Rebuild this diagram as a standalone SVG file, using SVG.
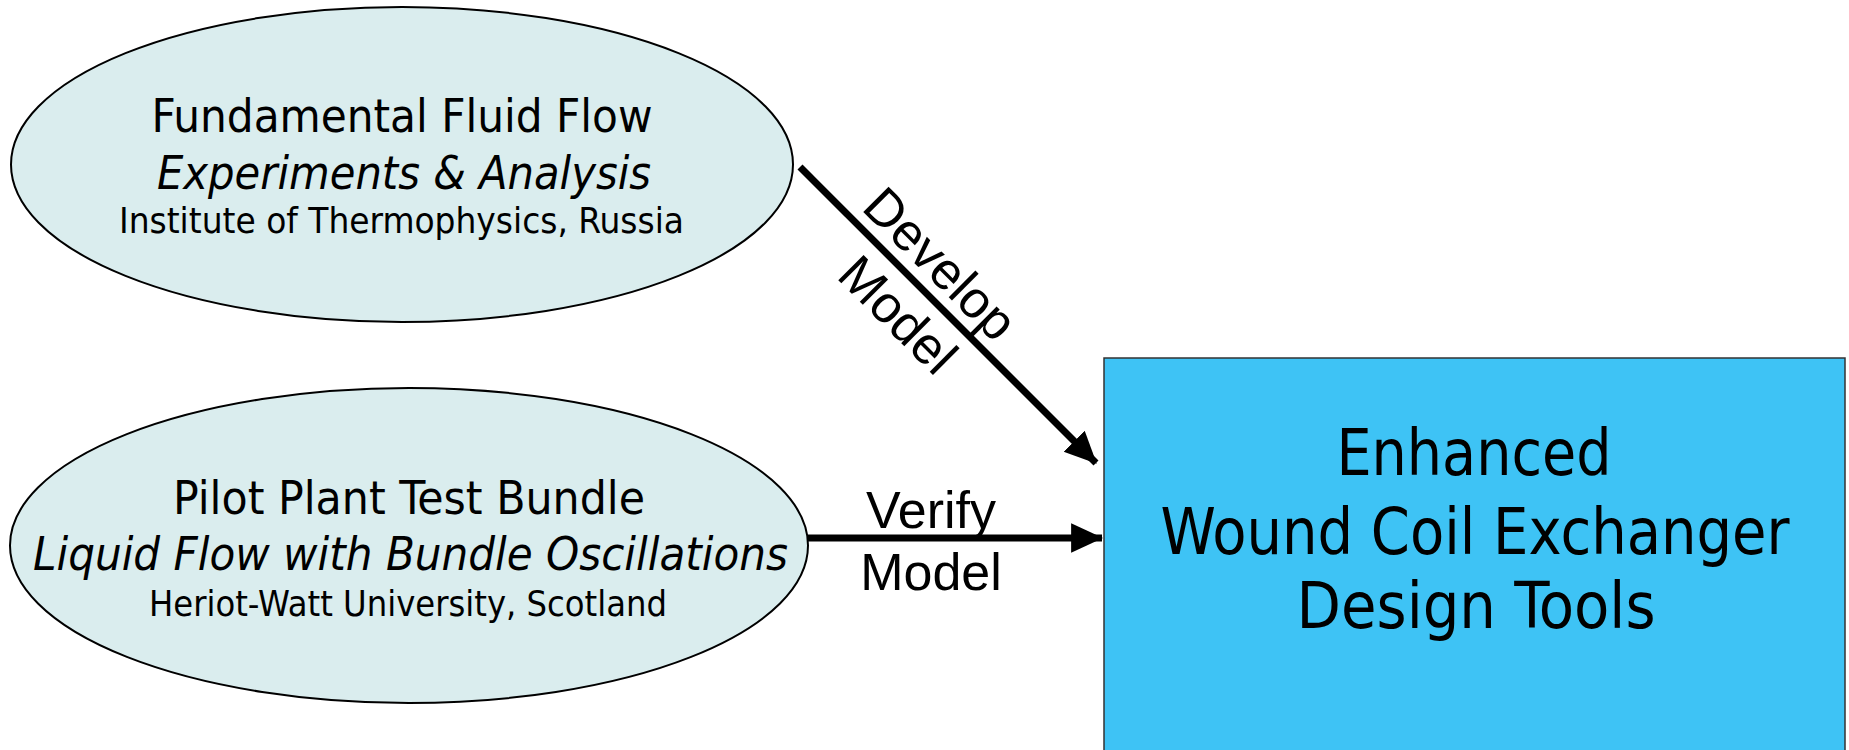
<svg xmlns="http://www.w3.org/2000/svg" width="1849" height="750" viewBox="0 0 1849 750">
<style>
  .bg { fill: #ffffff; }
  .ell { fill: #DAEDEE; stroke: #000000; stroke-width: 2; }
  .box { fill: #3EC3F5; stroke: #333333; stroke-width: 1.5; }
  .t { font-family: "DejaVu Sans Condensed", "DejaVu Sans", "Liberation Sans", sans-serif; font-stretch: condensed; fill: #000000; text-anchor: middle; }
  .it { font-style: italic; }
  .lbl { font-family: "Liberation Sans", Arial, sans-serif; font-size: 52px; fill: #000000; text-anchor: middle; }
  .conn { stroke: #000000; stroke-width: 7; fill: none; }
</style>
<defs>
  <marker id="arr" markerUnits="userSpaceOnUse" markerWidth="32" markerHeight="32" viewBox="0 0 28 26" refX="27" refY="13" orient="auto">
    <polygon points="0,0 28,13 0,26" fill="#000000"/>
  </marker>
</defs>
<rect class="bg" x="0" y="0" width="1849" height="750"/>

<g id="node-fundamental">
  <ellipse class="ell" cx="402" cy="164.5" rx="391" ry="157.5"/>
  <text class="t" x="402" y="132" font-size="47" textLength="501" lengthAdjust="spacingAndGlyphs">Fundamental Fluid Flow</text>
  <text class="t it" x="404" y="189" font-size="47" textLength="494" lengthAdjust="spacingAndGlyphs">Experiments &amp; Analysis</text>
  <text class="t" x="401.5" y="233" font-size="36" textLength="565" lengthAdjust="spacingAndGlyphs">Institute of Thermophysics, Russia</text>
</g>

<g id="node-pilot">
  <ellipse class="ell" cx="409" cy="545.5" rx="399" ry="157.5"/>
  <text class="t" x="409" y="514" font-size="47" textLength="472" lengthAdjust="spacingAndGlyphs">Pilot Plant Test Bundle</text>
  <text class="t it" x="410.5" y="570" font-size="47" textLength="755" lengthAdjust="spacingAndGlyphs">Liquid Flow with Bundle Oscillations</text>
  <text class="t" x="408" y="616" font-size="36" textLength="518" lengthAdjust="spacingAndGlyphs">Heriot-Watt University, Scotland</text>
</g>

<g id="node-tools">
  <rect class="box" x="1104" y="358" width="741" height="400"/>
  <text class="t" x="1474" y="475" font-size="64" textLength="275" lengthAdjust="spacingAndGlyphs">Enhanced</text>
  <text class="t" x="1475" y="554" font-size="64" textLength="629" lengthAdjust="spacingAndGlyphs">Wound Coil Exchanger</text>
  <text class="t" x="1476" y="628" font-size="64" textLength="359" lengthAdjust="spacingAndGlyphs">Design Tools</text>
</g>

<g id="connectors">
  <line class="conn" x1="800" y1="167" x2="1096" y2="463" marker-end="url(#arr)"/>
  <line class="conn" x1="808" y1="538" x2="1102" y2="538" marker-end="url(#arr)"/>
  <g transform="translate(920,287) rotate(45)">
    <text class="lbl" x="-2" y="-13">Develop</text>
    <text class="lbl" x="4" y="53">Model</text>
  </g>
  <text class="lbl" x="931" y="528">Verify</text>
  <text class="lbl" x="931" y="590">Model</text>
</g>
</svg>
